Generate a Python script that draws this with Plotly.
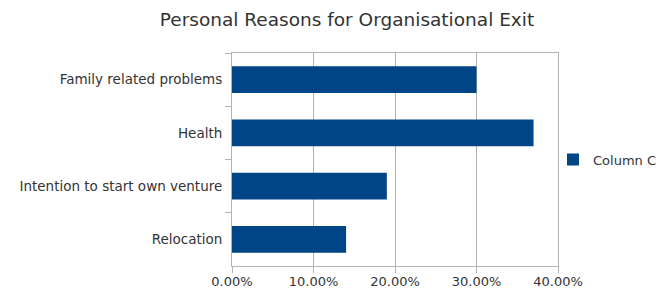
import plotly.graph_objects as go

categories = ["Family related problems", "Health", "Intention to start own venture", "Relocation"]
values = [0.30, 0.37, 0.19, 0.14]
series_name = "Column C"
x_ticks = [0, 0.1, 0.2, 0.3, 0.4]
x_tick_labels = ["0.00%", "10.00%", "20.00%", "30.00%", "40.00%"]
title_text = "Personal Reasons for Organisational Exit"

W, H = 661, 288
L, R, T, B = 232, 103, 53, 22

fig = go.Figure()
fig.add_trace(go.Bar(
    x=values, y=categories, orientation="h", name=series_name,
    marker=dict(color="#004586", line=dict(width=0)),
    showlegend=True,
))

font_fam = "DejaVu Sans"
fig.update_layout(
    width=W, height=H,
    margin=dict(l=L, r=R, t=T, b=B, pad=0, autoexpand=False),
    paper_bgcolor="white", plot_bgcolor="white",
    bargap=0.5,
    font=dict(family=font_fam, size=13, color="#333333"),
    title=dict(text=title_text, x=347 / W, xanchor="center", y=1 - 19.5 / H, yanchor="middle",
               font=dict(family=font_fam, size=18.5, color="#333333"), automargin=False),
    showlegend=True,
    legend=dict(x=(553 - L) / (W - L - R), xanchor="left", y=0.5, yanchor="middle",
                bgcolor="rgba(0,0,0,0)", borderwidth=0,
                font=dict(family=font_fam, size=13, color="#333333")),
    xaxis=dict(range=[0, 0.4], tickvals=x_ticks, ticktext=x_tick_labels,
               showgrid=True, gridcolor="#b3b3b3", gridwidth=1,
               showline=True, linecolor="#b3b3b3", linewidth=1, mirror=True,
               ticks="outside", ticklen=6, tickcolor="#b3b3b3", ticklabelstandoff=-3,
               zeroline=False, fixedrange=True, automargin=False),
    yaxis=dict(categoryorder="array", categoryarray=categories, autorange="reversed",
               showgrid=False, showline=True, linecolor="#b3b3b3", linewidth=1, mirror=True,
               ticks="outside", ticklen=6, tickcolor="#b3b3b3", tickson="boundaries",
               ticklabelstandoff=6, tickfont=dict(size=13.5),
               zeroline=False, fixedrange=True, automargin=False),
)

fig.write_html(
    "out.html",
    config={"displayModeBar": False, "staticPlot": True},
    post_script="document.body.style.margin='0';document.body.style.overflow='hidden';",
)
